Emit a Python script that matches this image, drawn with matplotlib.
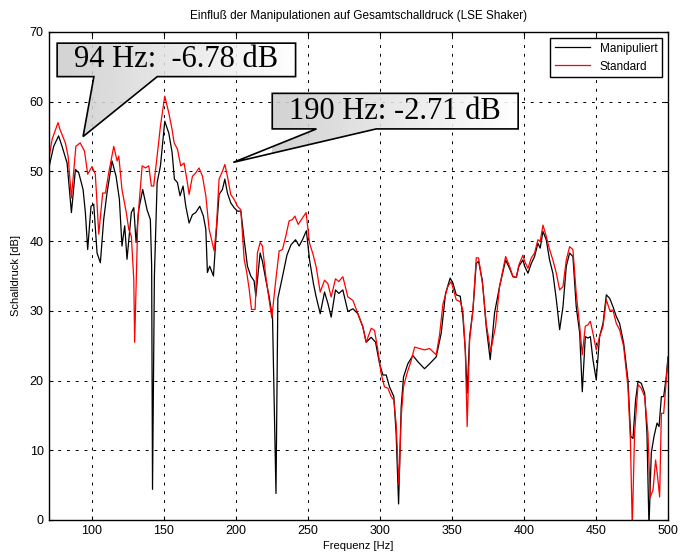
import numpy as np
import matplotlib
matplotlib.use("Agg")
import matplotlib.pyplot as plt
from matplotlib.patches import Polygon

plt.rcParams["font.family"] = ["Liberation Sans", "DejaVu Sans"]

# data (Hz, dB)
freq_manip = [70, 73.6, 77, 79.4, 82.9, 85.9, 88.7, 91, 94, 95.6, 97.2, 99.5, 101.4, 103.7, 106,
              108.3, 110.6, 114.1, 116.9, 119.2, 121, 122.9, 124.5, 127.5, 129.2, 130.8, 132.6,
              135.4, 138.4, 140.7, 141.6, 142.2, 143.5, 145.4, 147.7, 150.7, 153.5, 155.8, 157.4,
              159.5, 161.3, 163.4, 165.3, 167.6, 169.9, 172.2, 175, 177.5, 179.2, 180.3, 181.9,
              184.5, 186.6, 188.4, 190.7, 192.4, 194.2, 196.5, 198.8, 201.2, 203.5, 205.8, 208.1,
              210.4, 212.7, 213.9, 216.9, 218.5, 220.8, 223.1, 225.5, 227.9, 229.2, 232.5, 235.5,
              238.4, 241.5, 244, 246.5, 249, 251.2, 253.9, 255.8, 258.6, 261.6, 263.9, 266.2,
              269.2, 271.5, 274.3, 277.8, 281.3, 284.7, 288.2, 290.5, 294, 297, 299.8, 302.1,
              304.4, 306.7, 309.7, 311.3, 313, 314.8, 316.4, 319.4, 322.9, 326.4, 331, 334.5,
              339.1, 342.6, 345.6, 348.8, 350.7, 353, 355.8, 357.6, 359.3, 360.6, 362.3, 364.6,
              366.9, 368.5, 371.1, 373.8, 376.6, 379.6, 383.1, 387.3, 390, 392.4, 394.7, 396.5,
              399.3, 400.5, 402.8, 405.1, 407.4, 409.7, 411.3, 413.2, 415.5, 417.8, 420.1, 422.5,
              424.8, 427.1, 429.4, 431.7, 434, 436.3, 438.7, 440.5, 442.6, 444.4, 446.1, 447.9,
              450.2, 452.5, 454.9, 457.2, 459.5, 461.8, 464.1, 466.4, 469.2, 472.2, 474.1, 475.7,
              477.5, 479.2, 481.5, 483.8, 485.4, 486.8, 488.4, 490.3, 492.4, 493.8, 495.4, 497,
              498.8, 500]
db_manip = [50.3, 53.6, 55.1, 53.6, 51.2, 44.1, 50.3, 49.8, 47.4, 44.1, 38.8, 45, 45.3, 38.3, 36.9,
            43.1, 46.9, 51.5, 49.3, 46, 39.3, 42.2, 37.4, 44.1, 44.8, 39.8, 44.5,
            47.4, 44.5, 43.1, 36.4, 4.4, 35, 48.4, 50.8, 57.2, 55.5, 52.7, 48.9,
            48.4, 46.5, 47.9, 45, 42.6, 43.8, 44.1, 45, 43.6, 41.7, 35.5, 36.4,
            35, 41.7, 46.7, 47.4, 48.9, 46.9, 45.5, 44.8, 44.3, 44.3, 40.2, 36.4,
            35, 34.3, 32.1, 38.3, 37.1, 34.5, 32.1, 29, 3.8, 31.8, 35, 38,
            39.5, 40.2, 39.3, 40.3, 41.5, 37.3, 33.9, 32, 29.6, 32.7, 31.1, 29.1,
            33, 32.5, 33, 29.9, 30.3, 29.6, 27.7, 25.5, 26.2, 25.5, 22.4, 20.8,
            20.8, 19.1, 17.7, 12.4, 2.3, 16.2, 20.5, 22.4, 23.6, 22.7, 21.7, 22.4,
            23.4, 26.8, 32.5, 34.7, 34, 32.3, 32.1, 29.2, 24.4, 18.2, 26.3, 30.1,
            36.8, 37.1, 34.4, 27.8, 23, 29.7, 33.5, 37.3, 36.1, 34.9, 34.8, 36.4,
            37.3, 36.4, 35.4, 36.8, 37.8, 39.7, 39, 41.4, 40.2, 37.3, 35.4, 31.6,
            27.3, 30.6, 36.4, 38.3, 37.8, 30.6, 26.8, 18.4, 26.3, 26.1, 26.3, 23,
            20.1, 26.3, 28.2, 32.3, 31.8, 30.6, 29.2, 28.2, 25.4, 20.1, 12, 11.7,
            17.2, 19.9, 19.6, 18.2, 12.4, -1, 9.6, 12, 13.9, 13.4, 17.7, 17.7,
            20.6, 23.4]

freq_std = [70, 72.5, 76.6, 78, 81.7, 83.6, 85.9, 89, 92, 95, 97.2, 100.2, 102.5, 104.9, 107.6,
            109.5, 111.8, 115.3, 117.6, 118.8, 121, 124, 125.7, 127.5, 129.2, 129.8, 132, 135,
            137.3, 139.6, 141.4, 143, 145.4, 147.7, 150.7, 153.5, 155.8, 157.2, 159.5, 161.8,
            164.1, 166.4, 167.6, 169.9, 172.2, 174.5, 176.9, 179.2, 181.5, 185, 186.6, 188.4,
            190.7, 192.4, 194.2, 196.5, 198.8, 201.2, 203.5, 205.8, 207.6, 209.3, 210.9, 213.4,
            215, 216.9, 218.5, 220.8, 223.1, 225, 227.8, 230.1, 232.4, 234.7, 237, 239.4, 241,
            243.3, 245.6, 248.8, 251.2, 253.5, 255.8, 258.6, 261.6, 263.9, 266.2, 269.2, 271.5,
            274.3, 277.8, 281.3, 284.7, 288.2, 290.5, 294, 296.3, 298.6, 300.9, 303.2, 305.6,
            307.9, 309.7, 311.3, 313.2, 314.8, 316.4, 318.8, 321.8, 324.1, 327.5, 331, 334.5,
            339.1, 341.4, 343.8, 347.2, 349.5, 353, 355.8, 357.6, 359.3, 360.6, 362.3, 364.6,
            366.9, 368.5, 371.5, 373.8, 376.9, 380.3, 383.1, 387.3, 390, 392.4, 394.7, 396.5,
            399.3, 400.5, 402.8, 405.1, 407.4, 409.7, 411.3, 413.2, 415.5, 417.8, 420.1, 422.5,
            424.8, 427.1, 429.4, 431.7, 434, 436.3, 438.7, 440.5, 442.6, 444.4, 446.1, 447.9,
            450.2, 452.5, 454.9, 457.2, 459.5, 461.8, 464.1, 466.4, 469.2, 472.2, 473.9, 475.2,
            476.8, 479.2, 481.5, 483.8, 486.1, 487.7, 489.6, 491.4, 492.8, 494.2, 495.4, 497,
            498.8, 500]
db_std = [51.5, 54.6, 57, 56, 54.1, 52.2, 46.2, 53.6, 54.1, 52.9, 49.6, 50.7, 49.6, 41, 46.9,
          46.9, 49.8, 53.6, 51.5, 52.2, 47.4, 44.1, 41.7, 40.7, 34.5, 25.5, 43.1, 50.8,
          50.5, 50.8, 47.9, 47.9, 52.2, 56.5, 60.8, 58.4, 56, 54.1, 53.2, 50.8,
          51.2, 48.4, 46.7, 49.3, 49.8, 50.5, 49.3, 46.5, 41.7, 38.6, 42.2, 48.9,
          50, 51, 49.3, 46.7, 46, 45, 44.5, 37.4, 35.5, 33.1, 30.2, 30.2,
          38.3, 39.8, 39.3, 35, 31.6, 29, 34.5, 38.6, 38.8, 40.7, 42.9, 43.1, 43.6,
          42.4, 43.1, 44.1, 39.7, 38.2, 36.3, 32.7, 34.4, 33.9, 32, 34.6, 34.2,
          34.9, 32, 31.5, 29.6, 27.7, 25.5, 27.5, 27.2, 24.4, 21, 19.1, 18.9,
          17.7, 17.2, 13.8, 5, 14.8, 19.1, 21, 22.9, 24.8, 24.6, 24.4, 24.6,
          23.7, 26.5, 31, 33.5, 34.2, 31.6, 31.3, 30.1, 24.4, 13.4, 25.8, 30.1,
          37.6, 37.6, 33.5, 28.2, 24.2, 27.8, 33.5, 37.8, 36.4, 34.9, 34.8, 36.6,
          38, 37.1, 36.1, 37.6, 38.3, 40.2, 40, 42.3, 40.7, 38.8, 37.3, 35.4,
          33, 33.5, 37.3, 39.2, 38.8, 32.5, 27.8, 23.7, 27.8, 28, 28.5, 26.8,
          24.4, 26.3, 27.8, 31.6, 30.1, 30.1, 28.2, 27.3, 24.9, 19.1, 11.5, -1,
          12.4, 19.4, 18.9, 17.7, 12.4, 3.3, 4.3, 8.6, 6.2, 3.3, 15.3, 15.3,
          20.1, 23.2]

series_labels = ["Manipuliert", "Standard"]
x_ticks = [100, 150, 200, 250, 300, 350, 400, 450, 500]
y_ticks = [0, 10, 20, 30, 40, 50, 60, 70]

callout_texts = ["94 Hz:  -6.78 dB", "190 Hz: -2.71 dB"]


def draw_callout(ax, box, base, tip, text):
    # box = (x0, x1, y0, y1), base = (xa, xb) on the lower box edge, tip = (x, y)
    x0, x1, y0, y1 = box
    verts = [(x0, y1), (x1, y1), (x1, y0), (base[1], y0), tip, (base[0], y0), (x0, y0)]
    poly = Polygon(verts, closed=True, facecolor="none", edgecolor="black", lw=1.2, zorder=6)
    ax.add_patch(poly)
    # grey-to-white gradient, clipped to the callout shape
    grad = np.linspace(0.8, 1.0, 256).reshape(1, -1)
    img = ax.imshow(grad, cmap="gray", vmin=0, vmax=1, aspect="auto", alpha=0.88,
                    extent=(x0, x1, tip[1], y1), zorder=5, interpolation="bilinear")
    img.set_clip_path(poly)
    ax.text((x0 + x1) / 2, (y0 + y1) / 2, text, ha="center", va="center",
            family=["Liberation Serif", "DejaVu Serif"], fontsize=22, zorder=7)


fig = plt.figure(figsize=(6.8, 5.58), dpi=100)
ax = fig.add_axes([48.5 / 680, 38 / 558, 619.5 / 680, 488 / 558])

ax.plot(freq_manip, db_manip, color="black", lw=0.9, label=series_labels[0])
ax.plot(freq_std, db_std, color="red", lw=0.9, label=series_labels[1])

ax.set_xlim(70, 500)
ax.set_ylim(0, 70)
ax.set_xticks(x_ticks)
ax.set_yticks(y_ticks)
ax.tick_params(direction="in", length=3, labelsize=9, top=True, right=True)
ax.grid(True, color="black", linestyle=(0, (3, 6)), lw=0.7)
for sp in ax.spines.values():
    sp.set_linewidth(1.0)

ax.set_title("Einfluß der Manipulationen auf Gesamtschalldruck (LSE Shaker)", fontsize=8.5, pad=9)
ax.set_xlabel("Frequenz [Hz]", fontsize=8, labelpad=3)
ax.set_ylabel("Schalldruck [dB]", fontsize=8, labelpad=6)

leg = ax.legend(loc="upper right", fontsize=8.5, fancybox=False, framealpha=1,
                edgecolor="black", borderaxespad=0.5, handlelength=3)
leg.get_frame().set_linewidth(1.0)
leg.set_zorder(10)

draw_callout(ax, (76, 241.5, 63.6, 68.4), (101.5, 145.5), (94, 55), callout_texts[0])
draw_callout(ax, (225.3, 396, 56.1, 61.2), (256, 297.5), (198.3, 51.3), callout_texts[1])

fig.savefig("out.png", dpi=100)
